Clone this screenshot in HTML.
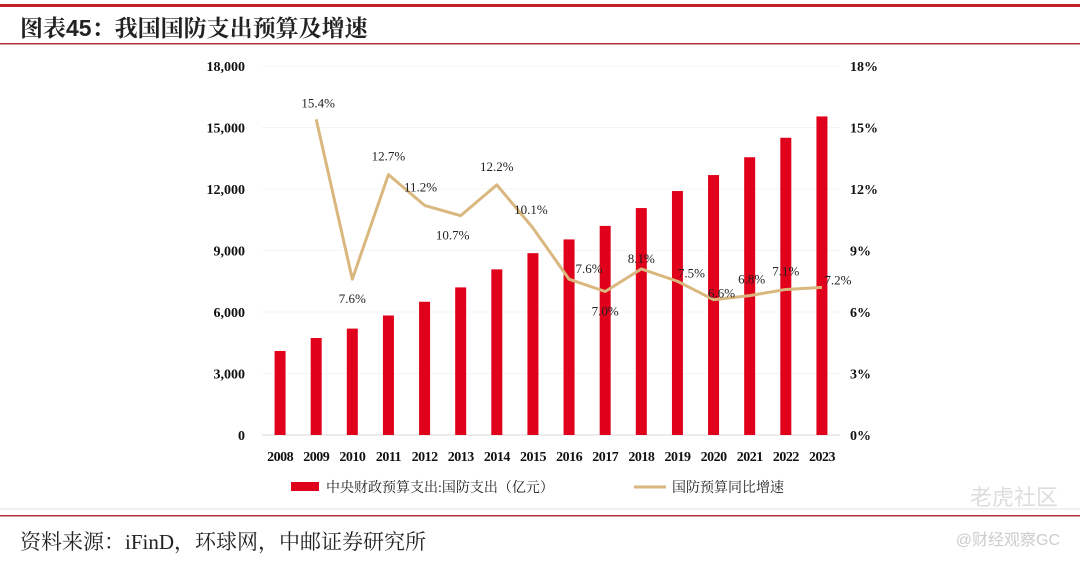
<!DOCTYPE html>
<html><head><meta charset="utf-8"><style>
body{margin:0;width:1080px;height:562px;background:#fff;overflow:hidden;font-family:"Liberation Serif","Noto Serif CJK SC",serif}
svg{position:absolute;left:0;top:0}
</style></head><body>
<svg id="c" width="1080" height="562">
<rect x="0" y="4" width="1080" height="3" fill="#c0202a"/>
<text x="20" y="36" font-size="23" font-weight="bold" fill="#222" font-family="Liberation Sans,'Noto Serif CJK SC',serif">图表45：我国国防支出预算及增速</text>
<rect x="0" y="43" width="1080" height="1.5" fill="#b03038"/>
<rect x="0" y="515" width="1080" height="1.5" fill="#b03038"/>
<line x1="0" y1="509" x2="1080" y2="509" stroke="#f0f0f0" stroke-width="2"/>
<text x="20" y="549" font-size="21" fill="#222" font-family="Liberation Serif,'Noto Serif CJK SC',serif">资料来源：iFinD，环球网，中邮证券研究所</text>
<text x="1058" y="505" font-size="22" fill="#ddd" text-anchor="end" font-family="Liberation Sans,'Noto Sans CJK SC',sans-serif">老虎社区</text>
<text x="1060" y="545" font-size="16" fill="#ccc" text-anchor="end" font-family="Liberation Sans,'Noto Sans CJK SC',sans-serif">@财经观察GC</text>
<g id="plot"></g>
</svg>
<script>
const years=['2008','2009','2010','2011','2012','2013','2014','2015','2016','2017','2018','2019','2020','2021','2022','2023'];
const spend=[4100,4730,5190,5830,6500,7200,8080,8870,9540,10200,11070,11900,12680,13550,14500,15540];
const growth=[null,15.4,7.6,12.7,11.2,10.7,12.2,10.1,7.6,7.0,8.1,7.5,6.6,6.8,7.1,7.2];
const leftTicks=[0,3000,6000,9000,12000,15000,18000];
const rightTicks=[0,3,6,9,12,15,18];
const NS='http://www.w3.org/2000/svg',g=document.getElementById('plot');
const x0=262,x1=840,yB=435,yT=66;
const bw=(x1-x0)/years.length;
const xc=i=>x0+bw*(i+0.5);
const yL=v=>yB-(v/18000)*(yB-yT);
const yR=v=>yB-(v/18)*(yB-yT);
function mk(t,a,txt){const e=document.createElementNS(NS,t);for(const k in a)e.setAttribute(k,a[k]);if(txt!=null)e.textContent=txt;g.appendChild(e);return e;}
leftTicks.forEach((v,i)=>{
 const l=mk('line',{x1:x0,x2:x1,y1:yL(v),y2:yL(v),stroke:i==0?'#d9d9d9':'#f4f4f4','stroke-width':1});
 
 
 const t=mk('text',{x:245,y:yL(v)+5,'font-size':14,'font-weight':'bold','text-anchor':'end',fill:'#111'},v.toLocaleString('en-US'));
 
 
});
rightTicks.forEach(v=>{
 const t=mk('text',{x:850,y:yR(v)+5,'font-size':14,'font-weight':'bold',fill:'#111'},v+'%');
 
 
});
spend.forEach((v,i)=>{
 const r=mk('rect',{x:xc(i)-5.5,y:yL(v),width:11,height:yB-yL(v),fill:'#e0001b'});
 
 
 const t=mk('text',{x:xc(i),y:461,'font-size':14,'font-weight':'bold','text-anchor':'middle',fill:'#111','letter-spacing':'-0.5'},years[i]);
 
 
});
let pts=[];growth.forEach((v,i)=>{if(v!=null)pts.push(xc(i)+','+yR(v));});
const pl=mk('polyline',{points:pts.join(' '),fill:'none',stroke:'#d9b77e','stroke-width':3,'stroke-linejoin':'round'});


const off=[[2,-12],[0,24],[0,-14],[-4,-14],[-8,24],[0,-14],[-2,-14],[20,-6],[0,24],[0,-6],[14,-4],[8,-2],[2,-12],[0,-14],[16,-3]];
growth.forEach((v,i)=>{if(v==null)return;const o=off[i-1];
 const t=mk('text',{x:xc(i)+o[0],y:yR(v)+o[1],'font-size':13,'text-anchor':'middle',fill:'#222'},v.toFixed(1)+'%');
 
 
});
const lb=mk('rect',{x:291,y:482,width:28,height:9,fill:'#e0001b'});


const lt=mk('text',{x:326,y:492,'font-size':14,fill:'#222'},'中央财政预算支出:国防支出（亿元）');


const ll=mk('line',{x1:634,x2:666,y1:487,y2:487,stroke:'#d9b77e','stroke-width':3});


const lt2=mk('text',{x:672,y:492,'font-size':14,fill:'#222'},'国防预算同比增速');


</script>
</body></html>
